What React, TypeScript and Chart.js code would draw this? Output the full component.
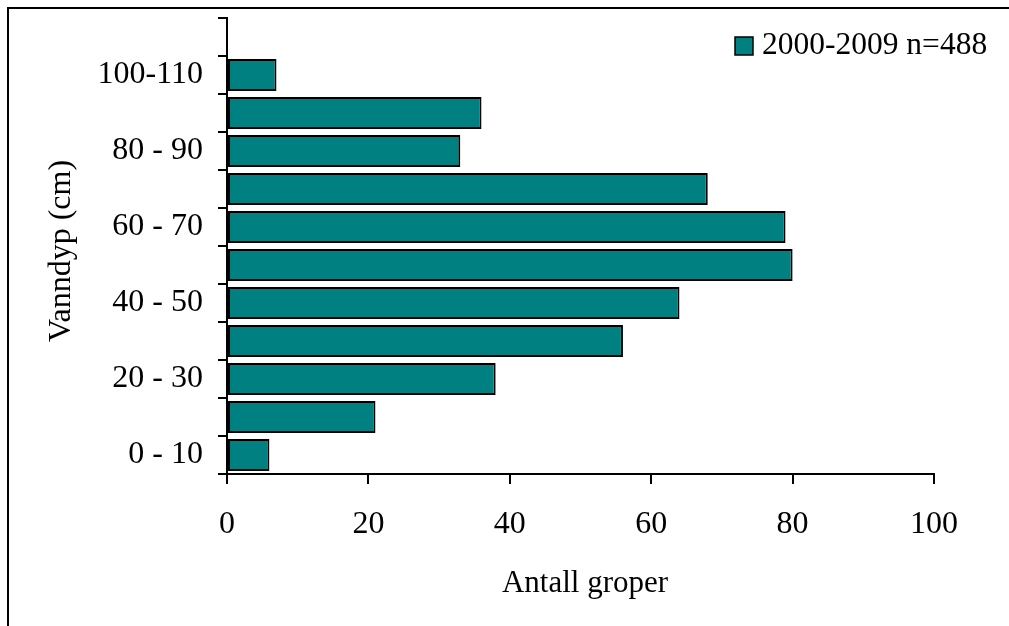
import React, { useEffect, useRef } from "react";
import { Chart, registerables } from "chart.js";

Chart.register(...registerables);

const categories = [
  "0 - 10", "10 - 20", "20 - 30", "30 - 40", "40 - 50", "50 - 60",
  "60 - 70", "70 - 80", "80 - 90", "90 - 100", "100-110", "110-120",
];
const counts: (number | null)[] = [6, 21, 38, 56, 64, 80, 79, 68, 33, 36, 7, null];
const seriesLabel = "2000-2009 n=488";
const xTicks = [0, 20, 40, 60, 80, 100];
const xTitle = "Antall groper";
const yTitle = "Vanndyp (cm)";

const FONT = "'Liberation Serif', 'Times New Roman', serif";
const TEAL = "#008080";

export default function App() {
  const ref = useRef<HTMLCanvasElement | null>(null);
  useEffect(() => {
    document.body.style.overflow = "hidden";
    const canvas = ref.current!;
    const overlay = {
      id: "overlay",
      afterDraw(chart: any) {
        const ctx = chart.ctx;
        ctx.save();
        ctx.fillStyle = "#000";
        ctx.textAlign = "center";
        ctx.textBaseline = "middle";
        ctx.font = `31px ${FONT}`;
        ctx.fillText(xTitle, 585, 584);
        ctx.font = `32px ${FONT}`;
        ctx.translate(62, 251);
        ctx.rotate(-Math.PI / 2);
        ctx.fillText(yTitle, 0, 0);
        ctx.restore();
        // legend
        ctx.save();
        const ds = chart.data.datasets[0];
        ctx.fillStyle = ds.backgroundColor;
        ctx.fillRect(735, 37, 18, 18);
        ctx.strokeStyle = "#000";
        ctx.lineWidth = 1.5;
        ctx.strokeRect(735, 37, 18, 18);
        ctx.fillStyle = "#000";
        ctx.font = `31.5px ${FONT}`;
        ctx.textAlign = "left";
        ctx.textBaseline = "middle";
        ctx.fillText(ds.label, 762, 46);
        ctx.restore();
      },
    };
    const chart = new Chart(canvas, {
      type: "bar",
      data: {
        labels: categories,
        datasets: [
          {
            label: seriesLabel,
            data: counts,
            backgroundColor: TEAL,
            borderColor: "#000",
            borderWidth: 2,
            borderSkipped: false,
            categoryPercentage: 1,
            barPercentage: 0.84,
          },
        ],
      },
      options: {
        indexAxis: "y",
        animation: false,
        responsive: false,
        maintainAspectRatio: false,
        layout: { padding: { top: 18, right: 75, left: 0, bottom: 0 } },
        plugins: { legend: { display: false }, tooltip: { enabled: false } },
        scales: {
          x: {
            type: "linear",
            min: 0,
            max: 100,
            afterFit: (s: any) => {
              s.height = 152;
              s.paddingLeft = 0;
              s.paddingRight = 0;
            },
            afterBuildTicks: (s: any) => { s.ticks = xTicks.map((v) => ({ value: v })); },
            ticks: {
              color: "#000",
              font: { family: FONT, size: 32 },
              padding: 21,
            },
            grid: {
              drawOnChartArea: false,
              drawTicks: true,
              tickLength: 10,
              color: "#000",
              lineWidth: 2,
            },
            border: { display: true, color: "#000", width: 2 },
          },
          y: {
            type: "category",
            reverse: true,
            afterFit: (s: any) => {
              s.width = 227;
              s.paddingTop = 0;
              s.paddingBottom = 0;
            },
            ticks: {
              autoSkip: false,
              color: "#000",
              font: { family: FONT, size: 32 },
              padding: 15,
              callback: (_v: any, i: number) => (i % 2 === 0 && i < 11 ? categories[i] : ""),
            },
            grid: {
              offset: true,
              drawOnChartArea: false,
              drawTicks: true,
              tickLength: 9,
              color: "#000",
              lineWidth: 2,
            },
            border: { display: true, color: "#000", width: 2 },
          },
        },
      },
      plugins: [overlay],
    } as any);
    return () => chart.destroy();
  }, []);
  return (
    <>
      <div
        style={{
          position: "fixed",
          left: 7,
          top: 7,
          width: 1100,
          height: 700,
          borderTop: "2px solid #000",
          borderLeft: "2px solid #000",
        }}
      />
      <canvas
        ref={ref}
        width={1009}
        height={626}
        style={{ position: "fixed", left: 0, top: 0, width: 1009, height: 626 }}
      />
    </>
  );
}
